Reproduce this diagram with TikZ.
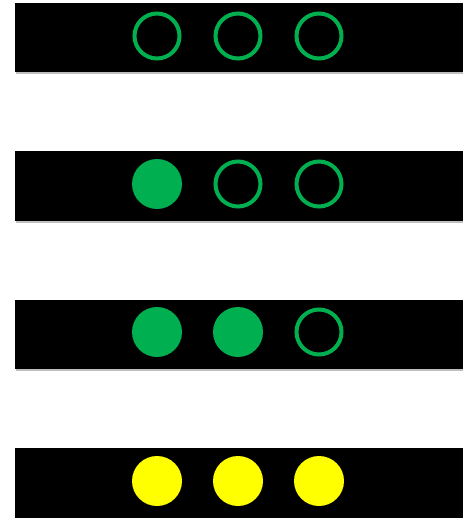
\documentclass[tikz,border=0pt]{standalone}
\definecolor{lampgreen}{HTML}{00B050}
\definecolor{lampyellow}{HTML}{FFFF00}
\begin{document}
\begin{tikzpicture}[x=1pt,y=-1pt,
  bar/.style={fill=black,draw=none},
  barshadow/.style={fill=black!25,draw=none},
  offlamp/.style={draw=lampgreen,line width=4pt,fill=none},
  onlamp/.style={fill=lampgreen,draw=none},
  yellamp/.style={fill=lampyellow,draw=none}]
\useasboundingbox (0,0) rectangle (463,518);
\fill[white] (0,0) rectangle (463,518);
% bars with shadows
\foreach \t/\b in {3/72,151/221,300/369,448/520}{
  \fill[barshadow] (16,\t+2) rectangle (463,\b+2);
  \fill[bar] (15,\t) rectangle (463,\b);
}
% row 1
\node[circle,offlamp,minimum size=45pt,inner sep=0pt] (a1) at (157,36) {};
\node[circle,offlamp,minimum size=45pt,inner sep=0pt] (a2) at (238,36) {};
\node[circle,offlamp,minimum size=45pt,inner sep=0pt] (a3) at (319,36) {};
% row 2
\node[circle,onlamp,minimum size=50pt,inner sep=0pt] (b1) at (157,184) {};
\node[circle,offlamp,minimum size=45pt,inner sep=0pt] (b2) at (238,184) {};
\node[circle,offlamp,minimum size=45pt,inner sep=0pt] (b3) at (319,184) {};
% row 3
\node[circle,onlamp,minimum size=50pt,inner sep=0pt] (c1) at (157,332) {};
\node[circle,onlamp,minimum size=50pt,inner sep=0pt] (c2) at (238,332) {};
\node[circle,offlamp,minimum size=45pt,inner sep=0pt] (c3) at (319,332) {};
% row 4
\node[circle,yellamp,minimum size=50pt,inner sep=0pt] (d1) at (157,481) {};
\node[circle,yellamp,minimum size=50pt,inner sep=0pt] (d2) at (238,481) {};
\node[circle,yellamp,minimum size=50pt,inner sep=0pt] (d3) at (319,481) {};
\end{tikzpicture}
\end{document}
